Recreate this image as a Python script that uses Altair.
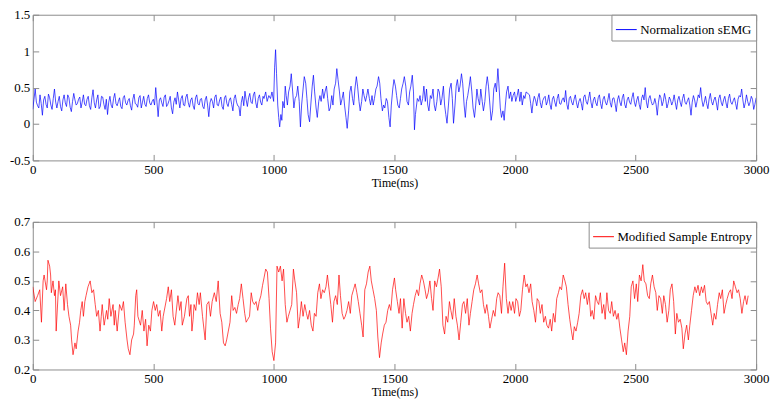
import altair as alt
import pandas as pd

FONT = "'Liberation Serif', 'Times New Roman', 'DejaVu Serif', serif"
BOX = "#8c8c8c"

# ---------------- top panel: Normalization sEMG ----------------
semg_flat1_t = list(range(0, 960, 10))
semg_flat1_v = [0.20,0.48,0.25,0.40,0.12,0.38,0.22,0.36,0.20,0.48,
                0.22,0.38,0.18,0.40,0.24,0.36,0.17,0.42,0.26,0.34,
                0.22,0.40,0.25,0.38,0.20,0.47,0.22,0.40,0.24,0.37,
                0.20,0.13,0.38,0.22,0.42,0.25,0.36,0.21,0.39,0.26,
                0.35,0.19,0.41,0.27,0.36,0.22,0.38,0.24,0.40,0.26,
                0.34,0.50,0.10,0.36,0.24,0.40,0.27,0.38,0.14,0.36,
                0.44,0.22,0.39,0.25,0.41,0.23,0.36,0.20,0.40,0.26,
                0.35,0.21,0.38,0.10,0.35,0.22,0.40,0.25,0.37,0.20,
                0.39,0.24,0.36,0.18,0.40,0.25,0.11,0.38,0.45,0.24,
                0.42,0.28,0.44,0.22,0.40,0.26]
semg_flat1_mid_t = list(range(5, 960, 10))
semg_flat1_mid_v = [0.34,0.30,0.22,0.28,0.33,0.27,0.41,0.26,0.35,0.30,
                    0.31,0.24,0.33,0.29,0.40,0.23,0.31,0.33,0.28,0.37,
                    0.30,0.27,0.34,0.25,0.36,0.29,0.33,0.21,0.38,0.27,
                    0.34,0.30,0.26,0.35,0.28,0.31,0.24,0.36,0.29,0.32,
                    0.25,0.34,0.28,0.23,0.39,0.30,0.27,0.35,0.29,0.31,
                    0.26,0.30,0.33,0.29,0.37,0.24,0.32,0.22,0.30,0.27,
                    0.33,0.35,0.26,0.37,0.29,0.33,0.25,0.36,0.28,0.34,
                    0.24,0.33,0.26,0.29,0.31,0.37,0.26,0.33,0.24,0.36,
                    0.28,0.33,0.27,0.35,0.30,0.24,0.30,0.25,0.33,0.36,
                    0.30,0.40,0.29,0.35,0.30,0.38]

semg_mid = [(959,0.35),(966,0.44),(972,0.31),(979,0.39),(986,0.35),(992,0.44),(999,0.31),
            (1003,0.78),(1007,1.02),(1011,0.69),(1016,0.26),(1020,0.09),(1024,-0.04),(1029,0.13),
            (1033,0.05),(1037,0.31),(1043,0.22),(1047,0.52),(1051,0.39),(1056,0.26),(1061,0.44),
            (1067,0.52),(1072,0.69),(1078,0.44),(1083,0.22),(1088,0.35),(1094,0.39),(1099,0.52),
            (1105,0.31),(1110,-0.04),(1115,0.26),(1121,0.48),(1126,0.65),(1132,0.56),(1137,0.35),
            (1142,0.13),(1148,0.03),(1153,0.26),(1159,0.52),(1164,0.67),(1169,0.44),(1175,0.22),
            (1180,0.09),(1186,0.31),(1191,0.39),(1196,0.31),(1202,0.48),(1207,0.35),(1212,0.44),
            (1218,0.52),(1223,0.35),(1229,0.18),(1234,0.22),(1240,0.39),(1245,0.26),(1250,0.48),
            (1256,0.56),(1261,0.76),(1266,0.61),(1272,0.44),(1277,0.26),(1283,0.35),(1288,0.44),
            (1293,0.26),(1299,0.09),(1304,-0.06),(1310,0.18),(1315,0.44),(1320,0.52),(1326,0.35),
            (1331,0.26),(1336,0.48),(1342,0.65),(1347,0.52),(1353,0.31),(1358,0.18),(1364,0.31),
            (1369,0.48),(1374,0.39),(1380,0.31),(1385,0.39),(1390,0.48),(1396,0.35),(1401,0.26),
            (1407,0.39),(1412,0.26),(1417,0.35),(1423,0.48),(1428,0.52),(1434,0.65),(1439,0.56),
            (1444,0.35),(1450,0.18),(1455,0.26),(1460,0.22),(1466,0.35),(1471,0.31),(1477,0.09),
            (1482,-0.04),(1487,0.26),(1493,0.48),(1498,0.61),(1504,0.52),(1509,0.39),(1514,0.26),
            (1520,0.22),(1525,0.35),(1530,0.48),(1536,0.56),(1541,0.65),(1547,0.52),(1552,0.31),
            (1558,0.26),(1563,0.44),(1568,0.52),(1574,0.67),(1579,0.44),(1583,-0.08),(1587,0.13),
            (1595,0.35),(1601,0.31),(1606,0.39),(1611,0.26),(1617,0.35),(1622,0.52),(1628,0.31),
            (1633,0.48),(1638,0.26),(1643,0.18),(1649,0.39),(1654,0.35),(1660,0.48),(1665,0.26),
            (1670,0.18),(1676,0.31),(1681,0.48),(1686,0.44),(1692,0.26),(1697,0.35),(1703,0.52),
            (1708,0.26),(1713,0.13),(1718,0.01),(1724,0.26),(1729,0.48),(1735,0.56),(1740,0.35),
            (1745,0.01),(1751,0.26),(1756,0.52),(1761,0.61),(1767,0.44),(1772,0.52),(1778,0.69),
            (1783,0.56),(1789,0.26),(1794,0.09),(1799,0.31),(1804,0.39),(1810,0.52),(1815,0.65),
            (1821,0.44),(1826,0.22),(1832,0.09),(1837,0.26),(1842,0.48),(1847,0.35),(1853,0.26),
            (1858,0.48),(1864,0.31),(1869,0.18),(1875,0.31),(1880,0.52),(1885,0.65),(1890,0.52),
            (1896,0.26),(1901,0.05),(1907,0.18),(1912,0.48),(1918,0.56),(1923,0.44),(1929,0.76),
            (1933,0.56),(1939,0.22),(1944,0.09),(1950,0.18),(1955,0.05),(1960,0.26),(1965,0.44),
            (1971,0.52),(1976,0.35),(1982,0.44),(1987,0.31),(1992,0.39),(1998,0.44),(2003,0.31),
            (2009,0.39),(2014,0.48),(2020,0.31),(2025,0.44),(2030,0.26),(2036,0.39),(2041,0.35),
            (2046,0.44)]

semg_flat2_t = list(range(2060, 3001, 10))
semg_flat2_v = [0.40,0.15,0.38,0.25,0.42,0.22,0.36,0.26,0.40,0.20,
                0.38,0.24,0.41,0.27,0.36,0.46,0.20,0.38,0.26,0.40,
                0.22,0.35,0.19,0.40,0.27,0.44,0.22,0.37,0.25,0.40,
                0.21,0.38,0.26,0.42,0.23,0.36,0.17,0.39,0.25,0.41,
                0.22,0.37,0.27,0.43,0.24,0.38,0.20,0.40,0.50,0.22,
                0.39,0.26,0.35,0.12,0.40,0.25,0.42,0.22,0.37,0.26,
                0.40,0.20,0.38,0.24,0.41,0.27,0.36,0.12,0.39,0.23,
                0.40,0.50,0.24,0.38,0.21,0.42,0.26,0.37,0.19,0.40,
                0.25,0.38,0.22,0.41,0.27,0.36,0.20,0.39,0.48,0.22,
                0.40,0.25,0.38,0.20,0.36]
semg_flat2_mid_t = list(range(2065, 3000, 10))
semg_flat2_mid_v = [0.28,0.30,0.33,0.36,0.29,0.32,0.38,0.31,0.27,0.34,
                    0.30,0.35,0.28,0.33,0.30,0.27,0.35,0.30,0.34,0.29,
                    0.31,0.28,0.37,0.31,0.35,0.30,0.33,0.29,0.36,0.28,
                    0.34,0.30,0.33,0.29,0.35,0.28,0.33,0.30,0.36,0.27,
                    0.33,0.30,0.36,0.30,0.33,0.27,0.35,0.33,0.30,0.35,
                    0.31,0.28,0.27,0.30,0.36,0.31,0.34,0.28,0.33,0.31,
                    0.29,0.33,0.30,0.35,0.30,0.32,0.26,0.30,0.33,0.31,
                    0.36,0.33,0.30,0.28,0.34,0.31,0.33,0.29,0.35,0.30,
                    0.33,0.29,0.35,0.30,0.32,0.28,0.34,0.37,0.33,0.29,
                    0.31,0.30,0.34,0.27]

# ---------------- bottom panel: Modified Sample Entropy ----------------
msampen = [(0,0.48),(10,0.43),(20,0.45),(29,0.47),(36,0.36),(43,0.50),(47,0.52),(57,0.47),(60,0.50),
           (63,0.57),(70,0.55),(74,0.52),(77,0.46),(84,0.50),(90,0.45),(94,0.47),(97,0.33),(108,0.50),
           (115,0.45),(124,0.48),(130,0.40),(137,0.49),(144,0.42),(150,0.38),(157,0.35),(161,0.30),
           (167,0.25),(175,0.29),(180,0.27),(188,0.33),(194,0.36),(199,0.40),(205,0.43),(210,0.38),
           (216,0.43),(221,0.45),(229,0.48),(238,0.50),(245,0.46),(252,0.47),(259,0.42),(265,0.38),
           (272,0.40),(279,0.33),(284,0.38),(288,0.42),(296,0.35),(306,0.40),(311,0.37),(317,0.44),
           (324,0.38),(333,0.42),(338,0.35),(342,0.40),(350,0.33),(360,0.42),(369,0.40),(376,0.43),
           (383,0.36),(391,0.30),(396,0.27),(403,0.25),(410,0.30),(418,0.32),(421,0.35),(427,0.45),
           (431,0.47),(436,0.38),(447,0.35),(454,0.40),(461,0.33),(468,0.37),(474,0.28),(481,0.35),
           (488,0.33),(494,0.40),(501,0.43),(508,0.40),(514,0.42),(521,0.38),(528,0.40),(535,0.33),
           (541,0.38),(555,0.44),(562,0.48),(568,0.43),(575,0.47),(582,0.38),(589,0.35),(602,0.45),
           (609,0.40),(615,0.43),(620,0.35),(629,0.38),(639,0.44),(645,0.45),(650,0.38),(656,0.42),
           (660,0.33),(665,0.37),(669,0.42),(676,0.40),(683,0.46),(690,0.42),(695,0.46),(704,0.38),
           (715,0.30),(722,0.42),(730,0.43),(737,0.38),(744,0.43),(753,0.46),(761,0.43),(769,0.50),
           (777,0.39),(784,0.36),(791,0.29),(798,0.28),(804,0.30),(811,0.33),(818,0.36),(825,0.45),
           (831,0.40),(838,0.41),(845,0.39),(852,0.42),(858,0.44),(865,0.49),(872,0.44),(879,0.39),
           (885,0.36),(892,0.37),(899,0.38),(906,0.46),(912,0.43),(919,0.42),(926,0.43),(933,0.40),
           (939,0.43),(946,0.45),(953,0.485),(959,0.51),(966,0.54),(973,0.53),(980,0.44),(986,0.34),
           (993,0.26),(1000,0.23),(1007,0.29),(1013,0.55),(1020,0.53),(1027,0.55),(1034,0.50),
           (1040,0.54),(1047,0.42),(1054,0.36),(1060,0.38),(1067,0.40),(1074,0.42),(1081,0.54),
           (1087,0.50),(1094,0.46),(1101,0.34),(1108,0.38),(1114,0.43),(1121,0.38),(1128,0.42),
           (1135,0.39),(1141,0.37),(1148,0.40),(1155,0.35),(1162,0.33),(1168,0.39),(1175,0.38),
           (1182,0.46),(1189,0.49),(1195,0.44),(1202,0.47),(1209,0.46),(1216,0.48),(1222,0.52),
           (1229,0.47),(1236,0.42),(1243,0.36),(1249,0.43),(1256,0.45),(1263,0.42),(1270,0.52),
           (1276,0.45),(1283,0.39),(1290,0.37),(1296,0.38),(1303,0.40),(1310,0.43),(1317,0.39),
           (1323,0.45),(1330,0.47),(1337,0.49),(1344,0.46),(1350,0.43),(1357,0.39),(1364,0.35),
           (1370,0.31),(1377,0.47),(1384,0.49),(1391,0.53),(1398,0.55),(1404,0.50),(1411,0.47),
           (1418,0.44),(1425,0.40),(1431,0.31),(1438,0.24),(1445,0.29),(1451,0.32),(1458,0.35),
           (1465,0.36),(1472,0.40),(1479,0.42),(1485,0.40),(1492,0.47),(1500,0.51),(1505,0.47),
           (1512,0.43),(1519,0.39),(1525,0.44),(1532,0.34),(1539,0.44),(1546,0.39),(1552,0.36),
           (1559,0.38),(1566,0.33),(1573,0.39),(1579,0.42),(1586,0.45),(1593,0.47),(1600,0.45),
           (1606,0.49),(1613,0.52),(1620,0.50),(1627,0.47),(1633,0.44),(1640,0.46),(1647,0.50),
           (1654,0.44),(1660,0.40),(1667,0.50),(1674,0.48),(1681,0.51),(1687,0.54),(1694,0.48),
           (1701,0.35),(1708,0.32),(1714,0.38),(1721,0.36),(1728,0.43),(1734,0.40),(1741,0.37),
           (1748,0.44),(1755,0.38),(1761,0.35),(1768,0.30),(1775,0.36),(1782,0.42),(1788,0.43),
           (1795,0.39),(1802,0.44),(1809,0.35),(1815,0.39),(1822,0.43),(1829,0.47),(1836,0.49),
           (1843,0.52),(1849,0.49),(1856,0.46),(1863,0.47),(1869,0.42),(1876,0.39),(1883,0.42),
           (1890,0.38),(1896,0.34),(1903,0.37),(1910,0.40),(1917,0.38),(1924,0.44),(1930,0.46),
           (1937,0.45),(1944,0.39),(1950,0.48),(1957,0.56),(1964,0.44),(1971,0.39),(1977,0.43),
           (1984,0.40),(1991,0.43),(1998,0.39),(2004,0.44),(2011,0.43),(2018,0.38),(2024,0.40),
           (2031,0.47),(2038,0.52),(2045,0.48),(2051,0.49),(2058,0.46),(2065,0.49),(2071,0.43),
           (2078,0.40),(2085,0.36),(2092,0.44),(2099,0.43),(2105,0.39),(2112,0.42),(2119,0.36),
           (2126,0.38),(2132,0.35),(2139,0.34),(2146,0.37),(2152,0.33),(2159,0.39),(2166,0.36),
           (2173,0.44),(2180,0.46),(2186,0.48),(2193,0.47),(2200,0.52),(2207,0.50),(2213,0.48),
           (2220,0.42),(2227,0.37),(2234,0.33),(2240,0.30),(2246,0.345),(2253,0.33),(2260,0.36),
           (2266,0.39),(2273,0.45),(2280,0.47),(2287,0.44),(2293,0.46),(2300,0.42),(2307,0.46),
           (2314,0.38),(2320,0.40),(2327,0.37),(2334,0.45),(2341,0.43),(2347,0.42),(2354,0.46),
           (2361,0.39),(2368,0.42),(2374,0.37),(2381,0.46),(2388,0.40),(2395,0.39),(2401,0.43),
           (2408,0.38),(2415,0.40),(2422,0.37),(2428,0.39),(2435,0.34),(2442,0.30),(2449,0.26),
           (2455,0.29),(2462,0.25),(2469,0.33),(2476,0.38),(2482,0.48),(2489,0.50),(2496,0.44),
           (2503,0.49),(2509,0.43),(2516,0.52),(2523,0.50),(2530,0.555),(2536,0.50),(2543,0.49),
           (2550,0.45),(2557,0.44),(2563,0.49),(2570,0.52),(2577,0.48),(2584,0.46),(2590,0.40),
           (2597,0.45),(2604,0.44),(2611,0.39),(2617,0.45),(2624,0.42),(2631,0.36),(2638,0.40),
           (2644,0.47),(2651,0.49),(2658,0.43),(2665,0.32),(2671,0.39),(2678,0.36),(2685,0.37),
           (2692,0.34),(2698,0.27),(2705,0.32),(2712,0.35),(2719,0.30),(2725,0.35),(2732,0.40),
           (2739,0.45),(2746,0.48),(2752,0.46),(2759,0.485),(2766,0.45),(2773,0.48),(2779,0.46),
           (2786,0.485),(2793,0.43),(2799,0.42),(2806,0.43),(2813,0.39),(2820,0.35),(2826,0.39),
           (2833,0.37),(2840,0.42),(2847,0.46),(2853,0.44),(2860,0.47),(2867,0.39),(2874,0.42),
           (2880,0.44),(2887,0.46),(2894,0.47),(2900,0.44),(2907,0.50),(2914,0.48),(2921,0.46),
           (2927,0.47),(2934,0.44),(2941,0.39),(2948,0.43),(2954,0.45),(2961,0.42),(2967,0.45)]

X_TICKS = [0, 500, 1000, 1500, 2000, 2500, 3000]
TOP_Y_TICKS = [-0.5, 0, 0.5, 1, 1.5]
BOT_Y_TICKS = [0.2, 0.3, 0.4, 0.5, 0.6, 0.7]

top_pairs = (list(zip(semg_flat1_t, semg_flat1_v)) + list(zip(semg_flat1_mid_t, semg_flat1_mid_v))
             + semg_mid + list(zip(semg_flat2_t, semg_flat2_v))
             + list(zip(semg_flat2_mid_t, semg_flat2_mid_v)))
top_pairs.sort(key=lambda p: p[0])
df_top = pd.DataFrame({"t": [p[0] for p in top_pairs], "v": [p[1] for p in top_pairs],
                       "s": "Normalization sEMG"})
df_bot = pd.DataFrame({"t": [p[0] for p in msampen], "v": [p[1] for p in msampen],
                       "s": "Modified Sample Entropy"})

W = 730
TK = 6


def panel(df, y_dom, y_ticks, color, h):
    xs = alt.Scale(domain=[0, 3000], nice=False, zero=False)
    ys = alt.Scale(domain=y_dom, nice=False, zero=False)
    x_axis = alt.Axis(values=X_TICKS, orient="bottom", title="Time(ms)", format="d",
                      offset=-TK, tickSize=TK, labelPadding=3, domain=False, grid=False,
                      tickColor=BOX, labelFlush=False, labelFont=FONT, labelFontSize=13,
                      labelColor="#000", titleFont=FONT, titleFontSize=12,
                      titleFontWeight="normal", titleColor="#000", titlePadding=1)
    y_axis = alt.Axis(values=y_ticks, orient="left", title=None, format="~g",
                      labelExpr="replace(datum.label, '\u2212', '-')",
                      offset=-TK, tickSize=TK, labelPadding=3, domain=False, grid=False,
                      tickColor=BOX, labelFont=FONT, labelFontSize=13, labelColor="#000")
    legend = alt.Legend(orient="top-right", title=None, symbolType="stroke",
                        symbolSize=441, symbolStrokeWidth=1, labelFont=FONT,
                        labelFontSize=13, labelColor="#000", strokeColor=BOX,
                        fillColor="white", padding=4, offset=0, labelOffset=3)
    line = alt.Chart(df).mark_line(strokeWidth=0.7, clip=True).encode(
        x=alt.X("t:Q", scale=xs, axis=x_axis),
        y=alt.Y("v:Q", scale=ys, axis=y_axis),
        color=alt.Color("s:N", scale=alt.Scale(range=[color]), legend=legend),
    )
    mirror = alt.Chart(df).mark_line(opacity=0).encode(
        x=alt.X("t:Q", scale=xs, axis=alt.Axis(values=X_TICKS, orient="top", title=None,
                                               labels=False, domain=False, grid=False,
                                               offset=-TK, tickSize=TK, tickColor=BOX)),
        y=alt.Y("v:Q", scale=ys, axis=alt.Axis(values=y_ticks, orient="right", title=None,
                                               labels=False, domain=False, grid=False,
                                               offset=-TK, tickSize=TK, tickColor=BOX)),
    )
    return alt.layer(line, mirror).resolve_axis(x="independent", y="independent").properties(
        width=W, height=h)


top = panel(df_top, [-0.5, 1.5], TOP_Y_TICKS, "#0000ff", 147)
bot = panel(df_bot, [0.2, 0.7], BOT_Y_TICKS, "#ff0000", 149)

chart = (
    alt.vconcat(top, bot, spacing=26)
    .resolve_scale(color="independent")
    .resolve_legend(color="independent")
    .properties(padding={"left": 0, "top": -2, "right": 0, "bottom": 0}, background="white")
    .configure(font=FONT)
    .configure_view(stroke=BOX, strokeWidth=1)
)

chart.save("out.html", embed_options={"renderer": "svg", "actions": False})
